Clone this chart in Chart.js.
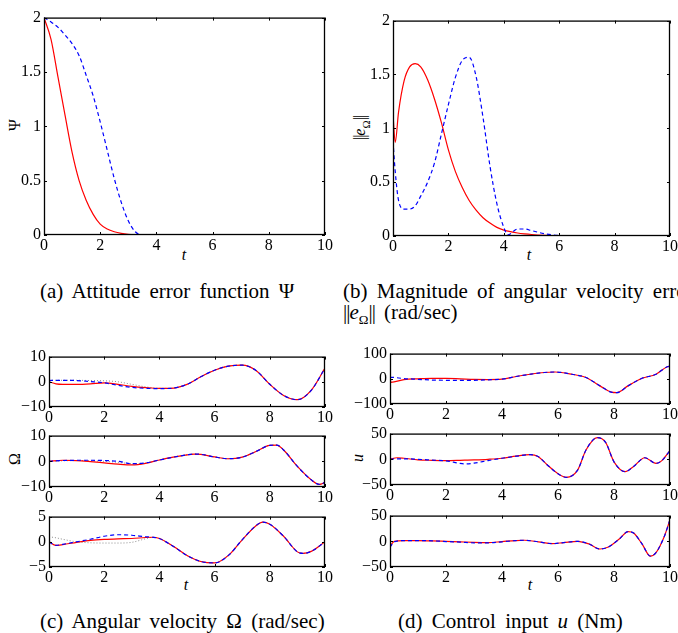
<!DOCTYPE html>
<html>
<head>
<meta charset="utf-8">
<script src="https://cdn.jsdelivr.net/npm/chart.js@4"></script>
<style>
  body { margin: 0; width: 678px; height: 633px; overflow: hidden; background: #fff; position: relative;
         font-family: 'Liberation Serif', 'Times New Roman', serif; color: #000; }
  canvas { position: absolute; }
  .lbl { position: absolute; transform: translate(-50%, -50%); font-size: 16px; white-space: nowrap; line-height: 1; }
  .rot { transform: translate(-50%, -50%) rotate(-90deg); }
  .cap { position: absolute; font-size: 21px; white-space: nowrap; line-height: 1; transform: translateY(-50%); word-spacing: 4px; }
  .nb { letter-spacing: -1px; }
  i { font-style: italic; }
</style>
</head>
<body>

<div class="lbl rot" style="left:15px; top:125px;">Ψ</div>
<div class="lbl" style="left:184px; top:255px;"><i>t</i></div>
<div class="lbl rot" style="left:362px; top:128px;"><span class="nb">||</span><i>e</i><sub style="font-size:11px">Ω</sub><span class="nb">||</span></div>
<div class="lbl" style="left:529px; top:255px;"><i>t</i></div>
<div class="lbl rot" style="left:15px; top:459px;">Ω</div>
<div class="lbl" style="left:186px; top:585px;"><i>t</i></div>
<div class="lbl rot" style="left:358px; top:458px;"><i>u</i></div>
<div class="lbl" style="left:530px; top:585px;"><i>t</i></div>

<div class="cap" style="left:40px; top:291px;">(a) Attitude error function Ψ</div>
<div class="cap" style="left:343px; top:291px;">(b) Magnitude of angular velocity error</div>
<div class="cap" style="left:343px; top:314px;"><span class="nb">||</span><i>e</i><sub style="font-size:13px">Ω</sub><span class="nb">||</span> (rad/sec)</div>
<div class="cap" style="left:40px; top:621px;">(c) Angular velocity Ω (rad/sec)</div>
<div class="cap" style="left:398px; top:621px;">(d) Control input <i>u</i> (Nm)</div>

<script>
// ---- data ----
const xTicks = [0, 2, 4, 6, 8, 10];

// (a) attitude error function
const psiT    = [0, 0.25, 0.5, 0.75, 1, 1.25, 1.5, 1.75, 2, 2.25, 2.5, 2.75, 3, 3.25, 3.5, 4, 10];
const psiRed  = [2, 1.8, 1.45, 1.1, 0.76, 0.5, 0.32, 0.19, 0.1, 0.055, 0.03, 0.015, 0.006, 0.002, 0, 0, 0];
const psiBlue = [2, 1.96, 1.91, 1.84, 1.76, 1.65, 1.47, 1.28, 1.04, 0.78, 0.52, 0.3, 0.13, 0.03, 0, 0, 0];
const psiTicks = [0, 0.5, 1, 1.5, 2];

// (b) angular velocity error magnitude
const eT    = [0, 0.08, 0.2, 0.4, 0.6, 0.8, 1, 1.25, 1.5, 1.75, 2, 2.25, 2.5, 2.75, 3, 3.25, 3.5, 3.75, 4, 4.15, 4.5, 4.75, 5, 5.5, 6, 7, 10];
const eRed  = [1.13, 0.87, 1.15, 1.44, 1.57, 1.6, 1.57, 1.45, 1.27, 1.05, 0.8, 0.6, 0.45, 0.33, 0.24, 0.17, 0.12, 0.08, 0.055, 0.045, 0.028, 0.02, 0.014, 0.007, 0.003, 0, 0];
const eBlue = [0.88, 0.6, 0.33, 0.25, 0.25, 0.28, 0.37, 0.5, 0.68, 0.95, 1.22, 1.47, 1.63, 1.66, 1.48, 1.1, 0.65, 0.3, 0.08, 0.01, 0.065, 0.065, 0.05, 0.02, 0.005, 0, 0];
const eTicks = [0, 0.5, 1, 1.5, 2];

// (c) angular velocity components
const om1T    = [0, 0.25, 0.5, 1, 1.5, 2, 2.5, 3, 3.5, 4, 4.4, 5, 5.5, 6, 6.5, 7, 7.5, 8, 8.5, 9, 9.5, 10];
const om1Red  = [0, -0.8, -1.0, -1.0, -0.8, -0.4, -1.0, -1.8, -2.3, -2.6, -2.6, -1.0, 2.0, 4.6, 6.2, 6.6, 4.5, -1.0, -5.4, -7.1, -3.4, 5.4];
const om1Blue = [0.5, 0.6, 0.6, 0.5, 0.1, -0.4, -1.4, -2.2, -2.6, -2.7, -2.6, -1.0, 2.0, 4.6, 6.2, 6.6, 4.5, -1.0, -5.4, -7.1, -3.4, 5.4];
const om1Ref  = [0.6, 0.6, 0.6, 0.6, 0.5, 0.4, 0.0, -1.0, -2.0, -2.6, -2.6, -1.0, 2.0, 4.6, 6.2, 6.6, 4.5, -1.0, -5.4, -7.1, -3.4, 5.4];
const om1Ticks = [-10, 0, 10];

const om2T    = [0, 0.5, 1, 1.5, 2, 2.5, 3, 3.5, 4, 4.5, 5, 5.25, 5.5, 6, 6.5, 7, 7.5, 8, 8.25, 8.5, 9, 9.5, 9.8, 10];
const om2Red  = [0, 0.4, 0.3, -0.1, -0.6, -1.1, -1.4, -0.8, 0.5, 1.6, 2.5, 2.8, 2.7, 1.7, 1.0, 1.6, 3.8, 6.2, 6.3, 4.4, -2.0, -7.2, -9.0, -8.2];
const om2Blue = [0, 0.3, 0.4, 0.4, 0.3, 0.0, -0.9, -0.6, 0.5, 1.6, 2.5, 2.8, 2.7, 1.7, 1.0, 1.6, 3.8, 6.2, 6.3, 4.4, -2.0, -7.2, -9.0, -8.2];
const om2Ref  = [0, 0.2, 0.3, 0.2, 0.0, -0.4, -0.9, -0.7, 0.5, 1.6, 2.5, 2.8, 2.7, 1.7, 1.0, 1.6, 3.8, 6.2, 6.3, 4.4, -2.0, -7.2, -9.0, -8.2];
const om2Ticks = [-10, 0, 10];

const om3T    = [0, 0.25, 0.5, 1, 1.5, 2, 2.5, 3, 3.5, 3.75, 4, 4.5, 5, 5.5, 6, 6.5, 7, 7.5, 7.75, 8, 8.5, 9, 9.2, 9.5, 10];
const om3Red  = [0, -0.7, -0.55, -0.1, 0.3, 0.5, 0.6, 0.65, 0.85, 0.9, 0.65, -0.9, -2.7, -3.9, -4.2, -2.7, 0.4, 3.2, 3.9, 3.5, 1.1, -2.0, -2.3, -1.9, 0];
const om3Blue = [0, -0.7, -0.5, 0.0, 0.5, 1.1, 1.4, 1.3, 1.0, 0.9, 0.65, -0.9, -2.7, -3.9, -4.2, -2.7, 0.4, 3.2, 3.9, 3.5, 1.1, -2.0, -2.3, -1.9, 0];
const om3Ref  = [1.0, 0.8, 0.5, 0.0, -0.2, -0.25, -0.25, -0.1, 0.6, 0.9, 0.65, -0.9, -2.7, -3.9, -4.2, -2.7, 0.4, 3.2, 3.9, 3.5, 1.1, -2.0, -2.3, -1.9, 0];
const om3Ticks = [-5, 0, 5];

// (d) control input components
const u1T    = [0, 0.03, 0.5, 1, 1.5, 2, 2.5, 3, 3.5, 4, 4.5, 5, 5.5, 5.9, 6.5, 7, 7.5, 7.9, 8.1, 8.5, 9, 9.5, 9.9, 10];
const u1Red  = [20, -14, -3.5, 0, 2, 2, 0, -2.4, -3, -1.5, 9, 18, 25, 27, 18, 5, -28, -53, -55, -28, 2, 18, 48, 50];
const u1Blue = [6, 6, 1, -2, -5, -6, -6.5, -6, -4, -1.5, 9, 18, 25, 27, 18, 5, -28, -53, -55, -28, 2, 18, 48, 50];
const u1Ticks = [-100, 0, 100];

const u2T    = [0, 0.25, 0.5, 1, 1.5, 2, 2.5, 2.7, 3, 3.5, 4, 4.5, 5, 5.3, 5.6, 6, 6.3, 6.7, 7, 7.4, 7.7, 8, 8.4, 8.7, 9.1, 9.5, 9.7, 10];
const u2Red  = [0, 3, 2, -1, -2, -2.5, -2, -1.7, -1.2, 0, 2, 6, 9, 5, -10, -28, -35, -21, 18, 42, 33, -5, -24, -14, 3, -8, -3, 17];
const u2Blue = [0, 1, 1, 0, -1.5, -3, -8, -9, -7.5, -2.5, 2, 6, 9, 5, -10, -28, -35, -21, 18, 42, 33, -5, -24, -14, 3, -8, -3, 17];
const u2Ticks = [-50, 0, 50];

const u3T    = [0, 0.15, 0.5, 1, 1.5, 2, 2.5, 3, 3.5, 4, 4.5, 4.8, 5.3, 5.8, 6.2, 6.7, 7.1, 7.5, 7.8, 8.2, 8.5, 8.7, 9, 9.3, 9.5, 9.8, 10];
const u3Red  = [-10, 0, 1.5, 1.5, 1, 0, -1, -2, -2.5, -0.5, 1.5, 2, -1, -4.5, -2.5, 0, -5, -15, -11, 5, 19, 16, -5, -29, -22, 10, 42];
const u3Blue = [-12, -1, 1.5, 1.5, 1, -0.5, -1.5, -3, -3, -1, 1.5, 2, -1, -4.5, -2.5, 0, -5, -15, -11, 5, 19, 16, -5, -29, -22, 10, 42];
const u3Ticks = [-50, 0, 50];

// ---- drawing ----
const PADL = 48, PADT = 9, PADR = 14, PADB = 24, TICK = 3;

Chart.defaults.font.family = "'Liberation Serif', 'Times New Roman', serif";
Chart.defaults.font.size = 16;
Chart.defaults.color = '#000';

const frame = {
  id: 'frame',
  afterDraw(chart) {
    const { ctx, chartArea: a, scales: { x, y } } = chart;
    ctx.save();
    ctx.strokeStyle = '#000';
    ctx.lineWidth = 1;
    ctx.beginPath();
    x.ticks.forEach(t => {
      const p = Math.round(x.getPixelForValue(t.value)) + 0.5;
      ctx.moveTo(p, a.bottom); ctx.lineTo(p, a.bottom - TICK);
      ctx.moveTo(p, a.top); ctx.lineTo(p, a.top + TICK);
    });
    y.ticks.forEach(t => {
      const p = Math.round(y.getPixelForValue(t.value)) + 0.5;
      ctx.moveTo(a.left, p); ctx.lineTo(a.left + TICK, p);
      ctx.moveTo(a.right, p); ctx.lineTo(a.right - TICK, p);
    });
    ctx.stroke();
    ctx.lineWidth = 1.3;
    ctx.strokeRect(a.left + 0.5, a.top + 0.5, a.right - a.left - 1, a.bottom - a.top - 1);
    ctx.restore();
  }
};

const fmt = v => String(v).replace('-', '\u2212');

function plot(box, t, series, yTicks) {
  const cv = document.createElement('canvas');
  cv.width = box.r - box.l + PADL + PADR;
  cv.height = box.b - box.t + PADT + PADB;
  cv.style.left = (box.l - PADL) + 'px';
  cv.style.top = (box.t - PADT) + 'px';
  document.body.appendChild(cv);

  new Chart(cv, {
    type: 'line',
    data: {
      datasets: series.map(s => ({
        data: t.map((x, i) => ({ x: x, y: s.values[i] })),
        borderColor: s.color,
        borderWidth: s.width || 1.2,
        borderDash: s.dash || [],
        pointRadius: 0,
        cubicInterpolationMode: 'monotone',
        fill: false,
        order: s.order
      }))
    },
    options: {
      responsive: false,
      animation: false,
      devicePixelRatio: 1,
      layout: { padding: { left: 0, top: PADT, right: PADR, bottom: 0 } },
      plugins: { legend: { display: false }, tooltip: { enabled: false } },
      scales: {
        x: {
          type: 'linear', min: 0, max: 10,
          afterBuildTicks: s => { s.ticks = xTicks.map(v => ({ value: v })); },
          afterFit: s => { s.height = PADB; },
          grid: { display: false, drawTicks: false },
          border: { display: false },
          ticks: { padding: 1, maxRotation: 0, autoSkip: false, callback: fmt }
        },
        y: {
          type: 'linear', min: yTicks[0], max: yTicks[yTicks.length - 1],
          afterBuildTicks: s => { s.ticks = yTicks.map(v => ({ value: v })); },
          afterFit: s => { s.width = PADL; },
          grid: { display: false, drawTicks: false },
          border: { display: false },
          ticks: { padding: 3, autoSkip: false, callback: fmt }
        }
      }
    },
    plugins: [frame]
  });
}

const RED = '#ff0000', BLUE = '#0000ff', GRAY = '#8c8c8c';
const red  = v => ({ values: v, color: RED, order: 1 });
const blue = v => ({ values: v, color: BLUE, dash: [4, 3], order: 0 });
const gray = v => ({ values: v, color: GRAY, dash: [1, 2], width: 1, order: 2 });

plot({ l: 44, t: 14, r: 325, b: 235 }, psiT, [red(psiRed), blue(psiBlue)], psiTicks);
plot({ l: 393, t: 17, r: 670, b: 236 }, eT, [red(eRed), blue(eBlue)], eTicks);

plot({ l: 49, t: 353, r: 325, b: 407 }, om1T, [gray(om1Ref), red(om1Red), blue(om1Blue)], om1Ticks);
plot({ l: 49, t: 432, r: 325, b: 487 }, om2T, [gray(om2Ref), red(om2Red), blue(om2Blue)], om2Ticks);
plot({ l: 49, t: 513, r: 325, b: 567 }, om3T, [gray(om3Ref), red(om3Red), blue(om3Blue)], om3Ticks);

plot({ l: 390, t: 350, r: 670, b: 404 }, u1T, [red(u1Red), blue(u1Blue)], u1Ticks);
plot({ l: 390, t: 430, r: 670, b: 485 }, u2T, [red(u2Red), blue(u2Blue)], u2Ticks);
plot({ l: 390, t: 512, r: 670, b: 567 }, u3T, [red(u3Red), blue(u3Blue)], u3Ticks);
</script>
</body>
</html>
